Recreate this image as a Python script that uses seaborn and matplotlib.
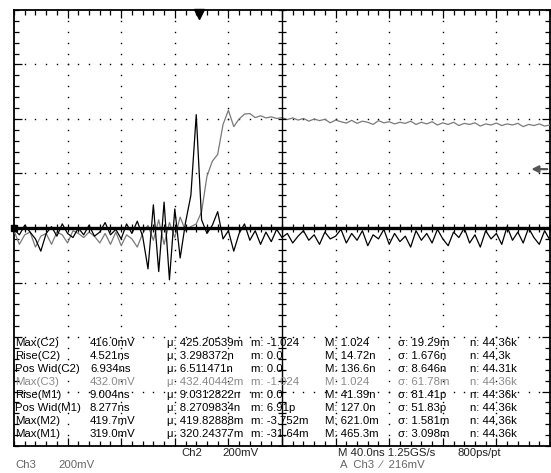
import numpy as np
import pandas as pd
import matplotlib

matplotlib.use("Agg")   # headless
import matplotlib.pyplot as plt
import seaborn as sns

# ── Scope record (4 ns between plotted points) ───────────────────────────────
t_ns = [-200, -196, -192, -188, -184, -180, -176, -172, -168, -164, -160, -156,
        -152, -148, -144, -140, -136, -132, -128, -124, -120, -116, -112, -108,
        -104, -100, -96, -92, -88, -84, -80, -76, -72, -68, -64, -60, -56, -52,
        -48, -44, -40, -36, -32, -28, -24, -20, -16, -12, -8, -4, 0, 4, 8, 12,
        16, 20, 24, 28, 32, 36, 40, 44, 48, 52, 56, 60, 64, 68, 72, 76, 80, 84,
        88, 92, 96, 100, 104, 108, 112, 116, 120, 124, 128, 132, 136, 140, 144,
        148, 152, 156, 160, 164, 168, 172, 176, 180, 184, 188, 192, 196, 200]

# Ch3 (grey, the step)
c3_mv = [-10, -60, -25, -15, -70, -30, -20, -60, -15,
         -25, -55, -10, -20, -35, -15, -30, -55, -20,
         -60, -15, -65, -25, -40, -70, -20, 10, -45,
         30, -60, 20, -35, 40, -10, 5, 15, 60,
         190, 245, 270, 380, 432, 372, 400, 418, 420,
         405, 412, 404, 408, 402, 405, 398, 404, 396,
         402, 392, 400, 394, 399, 386, 396, 390, 385,
         395, 384, 392, 388, 380, 394, 386, 390, 382,
         388, 384, 392, 380, 388, 382, 390, 378, 386,
         380, 388, 376, 384, 380, 386, 374, 382, 378,
         385, 376, 382, 378, 384, 372, 380, 376, 382,
         374, 378]

# Ch2 (black, ringing + spike)
c2_mv = [-5, -25, 10, -15, -40, -85, -20, 5, -30,
         15, -20, -35, 0, -25, 10, -30, -15, 20,
         -25, -5, -40, 15, -20, 25, -30, -150, 85,
         -160, 95, -190, 70, -110, 20, 120, 416, 30,
         -20, 10, 60, -40, -10, -85, -20, 15, -45,
         -10, -60, -15, -50, -5, -35, -20, -55, -30,
         -10, -45, -25, -60, -15, -40, -30, -5, -55,
         -20, -45, -10, -65, -25, -40, -5, -60, -20,
         -50, -30, -70, -10, -45, -20, -55, -5, -40,
         -65, -15, -35, 0, -55, -25, -70, -10, -40,
         -20, -60, 5, -45, -15, -55, 0, -35, -60,
         -10, -45]

# ── Measurement readout ──────────────────────────────────────────────────────
meas_labels = ["Max(C2)", "Rise(C2)", "Pos Wid(C2)", "Max(C3)",
               "Rise(M1)", "Pos Wid(M1)", "Max(M2)", "Max(M1)"]
meas_values = ["416.0mV", "4.521ns", "6.934ns", "432.0mV",
               "9.004ns", "8.277ns", "419.7mV", "319.0mV"]
meas_mean = ["425.20539m", "3.298372n", "6.511471n", "432.40442m",
             "9.0312822n", "8.2709834n", "419.82888m", "320.24377m"]
meas_min = ["-1.024", "0.0", "0.0", "-1.024", "0.0", "6.91p", "-3.752m", "-31.64m"]
meas_max = ["1.024", "14.72n", "136.6n", "1.024", "41.39n", "127.0n", "621.0m", "465.3m"]
meas_std = ["19.29m", "1.676n", "8.646n", "61.78m", "81.41p", "51.83p", "1.581m", "3.098m"]
meas_count = ["44.36k", "44.3k", "44.31k", "44.36k", "44.36k", "44.36k", "44.36k", "44.36k"]

NS_PER_DIV = 40
MV_PER_DIV = 200
TRIG_POS_NS = -62
TRIG_LEVEL_MV = 216

sns.set_style("white")
plt.rcParams["font.family"] = ["Liberation Sans", "DejaVu Sans"]

W, H = 551, 473
fig = plt.figure(figsize=(W / 100, H / 100), dpi=100)
fig.patch.set_facecolor("white")
# graticule: 10 x 8 divisions
ax = fig.add_axes([14 / W, 27 / H, 536 / W, 436 / H])
ax.set_xlim(-5 * NS_PER_DIV, 5 * NS_PER_DIV)
ax.set_ylim(-4 * MV_PER_DIV, 4 * MV_PER_DIV)

# dotted graticule lines (one dot per minor division)
x_major = np.arange(-4, 5) * NS_PER_DIV
y_major = np.arange(-3, 4) * MV_PER_DIV
x_minor = np.arange(-25, 26) * NS_PER_DIV / 5
y_minor = np.arange(-20, 21) * MV_PER_DIV / 5
for xm in x_major:
    if xm != 0:
        ax.plot(np.full_like(y_minor, xm), y_minor, ls="none", marker="s",
                ms=1.0, mew=0, color="black", zorder=1)
for ym in y_major:
    if ym != 0:
        ax.plot(x_minor, np.full_like(x_minor, ym), ls="none", marker="s",
                ms=1.0, mew=0, color="black", zorder=1)

# traces
df = pd.DataFrame({
    "t": t_ns * 2,
    "v": c3_mv + c2_mv,
    "ch": ["Ch3"] * len(t_ns) + ["Ch2"] * len(t_ns),
})
sns.lineplot(data=df, x="t", y="v", hue="ch", palette={"Ch3": "#7a7a7a", "Ch2": "#000000"},
             estimator=None, sort=False, lw=0.9, legend=False, ax=ax, zorder=3)

# centre cross with minor ticks
ax.axhline(0, color="black", lw=2.4, zorder=5)
ax.axvline(0, color="black", lw=1.0, zorder=5)
ax.plot(x_minor, np.zeros_like(x_minor), ls="none", marker="|", ms=6, mew=0.9,
        color="black", zorder=5)
ax.plot(np.zeros_like(y_minor), y_minor, ls="none", marker="_", ms=6, mew=0.9,
        color="black", zorder=5)

# border ticks
ax.set_xticks(x_major)
ax.set_yticks(y_major)
ax.set_xticks(x_minor, minor=True)
ax.set_yticks(y_minor, minor=True)
ax.tick_params(which="both", direction="in", top=True, bottom=True, left=True, right=True,
               labelbottom=False, labelleft=False, color="black", width=0.9)
ax.tick_params(which="major", length=6)
ax.tick_params(which="minor", length=3.5)
ax.set_xlabel("")
ax.set_ylabel("")
for sp in ax.spines.values():
    sp.set_visible(True)
    sp.set_color("black")
    sp.set_linewidth(1.3)

# trigger position / level, ground marker
ax.plot([TRIG_POS_NS], [4 * MV_PER_DIV - 14], marker="v", ms=7, color="black",
        clip_on=False, zorder=6)
ax.annotate("", xy=(184, TRIG_LEVEL_MV), xytext=(200, TRIG_LEVEL_MV),
            arrowprops=dict(arrowstyle="-|>", color="#555555", lw=1.6), zorder=6)
ax.plot([-5 * NS_PER_DIV], [0], marker="s", ms=5, color="black", clip_on=False, zorder=6)


def px(x, y):
    return x / W, 1 - y / H


# measurement table
cols_x = [15, 90, 167, 251, 325, 398, 470]
for k in range(len(meas_labels)):
    y = 343 + 13 * k
    color = "#8a8a8a" if meas_labels[k] == "Max(C3)" else "black"
    cells = [meas_labels[k], meas_values[k], "μ: " + meas_mean[k], "m: " + meas_min[k],
             "M: " + meas_max[k], "σ: " + meas_std[k], "n: " + meas_count[k]]
    for cx, s in zip(cols_x, cells):
        fig.text(*px(cx, y), s, fontsize=8.2, color=color, va="center", ha="left", zorder=7)

# channel / timebase readouts
fs = 8.2
fig.text(*px(181, 453), "Ch2", fontsize=fs, va="center", color="#222222")
fig.text(*px(222, 453), "200mV", fontsize=fs, va="center", color="#222222")
fig.text(*px(338, 453), "M 40.0ns 1.25GS/s", fontsize=fs, va="center", color="#222222")
fig.text(*px(458, 453), "800ps/pt", fontsize=fs, va="center", color="#222222")
fig.text(*px(15, 465), "Ch3", fontsize=fs, va="center", color="#666666")
fig.text(*px(58, 465), "200mV", fontsize=fs, va="center", color="#666666")
fig.text(*px(340, 465), "A  Ch3  ∕  216mV", fontsize=fs, va="center", color="#666666")

fig.savefig("out.png", dpi=100)
plt.close(fig)
